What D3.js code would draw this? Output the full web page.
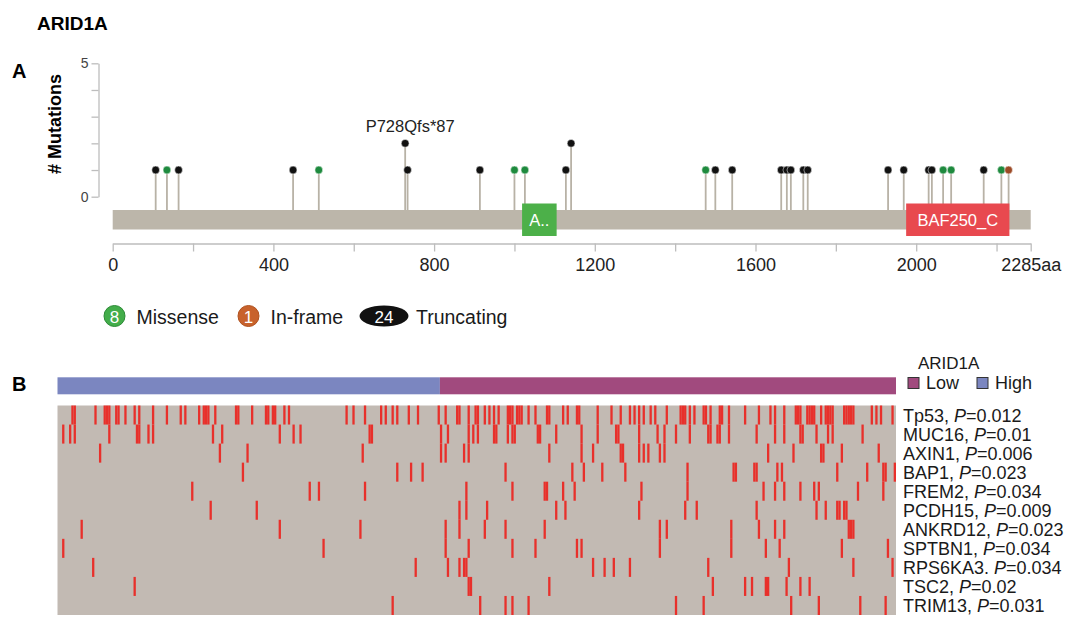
<!DOCTYPE html>
<html>
<head>
<meta charset="utf-8">
<script src="https://cdnjs.cloudflare.com/ajax/libs/d3/7.8.5/d3.min.js"></script>
<style>
  body { margin: 0; background: #fff; }
  svg { font-family: "Liberation Sans", Arial, sans-serif; }
  .axis path, .axis line { stroke: #bdbdbd; stroke-width: 1.3; }
  .axis text { fill: #222; }
</style>
</head>
<body>
<div id="chart"></div>
<script>
// ---- panel A: lollipop data ----
var proteinLength = 2285;
var mutPos   = [107, 135, 164, 449, 513, 728, 734, 914, 1000, 1026, 1128, 1141, 1476, 1500, 1542, 1664, 1678, 1688, 1719, 1730, 1930, 1969, 2031, 2039, 2067, 2087, 2168, 2212, 2230];
var mutCount = [1, 1, 1, 1, 1, 2, 1, 1, 1, 1, 1, 2, 1, 1, 1, 1, 1, 1, 1, 1, 1, 1, 1, 1, 1, 1, 1, 1, 1];
var mutType  = ["T", "M", "T", "T", "M", "T", "T", "T", "M", "M", "T", "T", "M", "T", "T", "T", "T", "T", "T", "T", "T", "T", "T", "T", "M", "M", "T", "M", "I"];
var domainNames = ["A..", "BAF250_C"];
var domainStart = [1019, 1975];
var domainEnd   = [1105, 2232];
var xTickValues = [0, 200, 400, 600, 800, 1000, 1200, 1400, 1600, 1800, 2000, 2200, 2285];
var xTickLabels = ["0", "", "400", "", "800", "", "1200", "", "1600", "", "2000", "", "2285aa"];
var yTickValues = [0, 1, 2, 3, 4, 5];
var labelledMutation = { pos: 728, text: "P728Qfs*87" };
var legendNames  = ["Missense", "In-frame", "Truncating"];
var legendCounts = ["8", "1", "24"];

// ---- panel B: oncoprint data (sample indices with mutation) ----
var nSamples = 364;
var nHigh = 166;   // first samples are ARID1A High, rest Low
var genes   = ["Tp53", "MUC16", "AXIN1", "BAP1", "FREM2", "PCDH15", "ANKRD12", "SPTBN1", "RPS6KA3", "TSC2", "TRIM13"];
var pValues = ["0.012", "0.01", "0.006", "0.023", "0.034", "0.009", "0.023", "0.034", "0.034", "0.02", "0.031"];
var tp53    = [6,7,16,20,21,22,25,26,29,33,35,41,47,53,55,61,63,64,65,68,77,78,84,90,91,93,94,98,100,125,128,133,140,142,145,147,152,156,165,168,173,174,178,181,182,185,187,189,191,195,196,197,199,200,201,204,207,212,213,219,221,225,226,234,240,244,248,250,252,254,257,259,264,270,271,272,274,276,280,281,283,287,288,291,298,304,309,311,315,320,321,322,325,326,327,328,331,333,334,335,336,341,342,343,344,345,353,355,357,362];
var muc16   = [2,5,7,22,34,35,39,41,67,71,96,102,105,135,136,166,169,178,180,182,189,190,195,197,198,208,209,216,227,234,242,243,252,260,263,268,274,282,283,286,287,291,303,311,315,322,323,329,334,336,349];
var axin1   = [18,70,82,132,166,168,176,178,213,227,232,244,245,252,254,256,261,263,308,319,331,332,340,356];
var bap1    = [80,147,153,158,194,223,228,236,246,273,293,294,302,303,312,314,338,351,358,359,363];
var frem2   = [58,109,113,133,177,197,211,212,219,224,253,273,306,311,315,322,328,330,347,358];
var pcdh15  = [66,86,174,177,186,216,220,252,272,277,303,329,333,338,339,341,342];
var ankrd12 = [10,96,131,168,174,185,194,211,261,264,292,304,311,315,343,344,345];
var sptbn1  = [2,115,168,178,197,207,225,227,261,292,307,313,340,360];
var rps6ka3 = [15,155,169,174,176,177,232,237,241,248,282,317,345,362];
var tsc2    = [33,178,179,213,284,298,301,307,308,316,322,326];
var trim13  = [145,183,194,197,204,268,280,318,330,348,359];
var geneMutations = [tp53, muc16, axin1, bap1, frem2, pcdh15, ankrd12, sptbn1, rps6ka3, tsc2, trim13];

var typeColor = { M: "#1e8a3e", I: "#9c4a26", T: "#111111" };
var legendColor = ["#43ad4a", "#c8622c", "#111111"];

var width = 1074, height = 623;
var svg = d3.select("#chart").append("svg")
    .attr("width", width)
    .attr("height", height);

drawLollipop();
drawOncoprint();

function drawLollipop() {
    var x = d3.scaleLinear().domain([0, proteinLength]).range([112.7, 1030.7]);
    var y = d3.scaleLinear().domain([0, 5]).range([196.7, 63.3]);
    var barTop = 210, barH = 19.5;

    svg.append("text").attr("x", 37).attr("y", 30)
        .style("font-size", "19px").style("font-weight", "bold").text("ARID1A");
    svg.append("text").attr("x", 12).attr("y", 78)
        .style("font-size", "20px").style("font-weight", "bold").text("A");

    // y axis
    svg.append("g").attr("class", "axis")
        .attr("transform", "translate(98.5,0)")
        .call(d3.axisLeft(y).tickValues(yTickValues).tickSize(7).tickSizeOuter(0)
            .tickFormat(function (d) { return (d == 0 || d == 5) ? d : ""; }))
        .selectAll("text").style("font-size", "14px").style("fill", "#444");

    svg.append("text")
        .attr("transform", "translate(61,124) rotate(-90)")
        .attr("text-anchor", "middle")
        .style("font-size", "18px").style("font-weight", "bold")
        .text("# Mutations");

    // x axis
    var xAxis = svg.append("g").attr("class", "axis")
        .attr("transform", "translate(0,243.5)")
        .call(d3.axisBottom(x).tickValues(xTickValues).tickSize(8).tickSizeOuter(0).tickPadding(7)
            .tickFormat(function (d, i) { return xTickLabels[i]; }));
    xAxis.selectAll("text").style("font-size", "18px");

    // stems
    svg.selectAll(".stem").data(mutPos).enter().append("line")
        .attr("class", "stem")
        .attr("x1", function (d) { return x(d); })
        .attr("x2", function (d) { return x(d); })
        .attr("y1", barTop)
        .attr("y2", function (d, i) { return y(mutCount[i]); })
        .attr("stroke", "#b8b2a6").attr("stroke-width", 1.8);

    // protein backbone
    svg.append("rect")
        .attr("x", x(0)).attr("y", barTop)
        .attr("width", x(proteinLength) - x(0)).attr("height", barH)
        .attr("fill", "#bcb6aa");

    // domains
    var domainColor = ["#4cb049", "#e8494f"];
    domainNames.forEach(function (name, i) {
        svg.append("rect")
            .attr("x", x(domainStart[i])).attr("y", barTop - 6.5)
            .attr("width", x(domainEnd[i]) - x(domainStart[i])).attr("height", barH + 13)
            .attr("fill", domainColor[i]);
        svg.append("text")
            .attr("x", (x(domainStart[i]) + x(domainEnd[i])) / 2).attr("y", barTop + barH / 2 + 6)
            .attr("text-anchor", "middle").attr("fill", "#fff")
            .style("font-size", "16.5px").text(name);
    });

    // dots
    svg.selectAll(".dot").data(mutPos).enter().append("circle")
        .attr("class", "dot")
        .attr("cx", function (d) { return x(d); })
        .attr("cy", function (d, i) { return y(mutCount[i]); })
        .attr("r", 3.9)
        .attr("fill", function (d, i) { return typeColor[mutType[i]]; })
        .attr("stroke", "#fff").attr("stroke-width", 0.5);

    svg.append("text")
        .attr("x", x(labelledMutation.pos) + 5).attr("y", y(2) - 11)
        .attr("text-anchor", "middle")
        .style("font-size", "16.5px").style("fill", "#222")
        .text(labelledMutation.text);

    // legend
    var lg = svg.append("g").attr("transform", "translate(0,316)");
    var lx = [114.5, 248.5, 384];
    legendNames.forEach(function (name, i) {
        if (i < 2) {
            lg.append("circle").attr("cx", lx[i]).attr("cy", 0).attr("r", 10.5)
                .attr("fill", legendColor[i])
                .attr("stroke", i == 0 ? "#2c8a36" : "#b0521f").attr("stroke-width", 1);
        } else {
            lg.append("ellipse").attr("cx", lx[i]).attr("cy", 0).attr("rx", 24.5).attr("ry", 10.5)
                .attr("fill", legendColor[i]);
        }
        lg.append("text").attr("x", lx[i]).attr("y", 6.5)
            .attr("text-anchor", "middle").attr("fill", "#fff")
            .style("font-size", "17px").text(legendCounts[i]);
        lg.append("text").attr("x", lx[i] + (i < 2 ? 22 : 32)).attr("y", 7.5)
            .style("font-size", "19.5px").style("fill", "#1a1a1a").text(name);
    });
}

function drawOncoprint() {
    var x = d3.scaleLinear().domain([0, nSamples]).range([57.5, 896]);
    var y = d3.scaleBand().domain(genes).range([405.5, 615]).padding(0);

    svg.append("text").attr("x", 12).attr("y", 391)
        .style("font-size", "20px").style("font-weight", "bold").text("B");

    // ARID1A group bar
    svg.append("rect").attr("x", x(0)).attr("y", 377.3)
        .attr("width", x(nHigh) - x(0)).attr("height", 17).attr("fill", "#7b86c0");
    svg.append("rect").attr("x", x(nHigh)).attr("y", 377.3)
        .attr("width", x(nSamples) - x(nHigh)).attr("height", 17).attr("fill", "#a14a7e");

    // background
    svg.append("rect").attr("x", x(0)).attr("y", y.range()[0])
        .attr("width", x(nSamples) - x(0)).attr("height", y.range()[1] - y.range()[0])
        .attr("fill", "#c2bab3");

    geneMutations.forEach(function (list, gi) {
        svg.selectAll(".mut" + gi).data(list).enter().append("rect")
            .attr("class", "mut" + gi)
            .attr("x", function (d) { return x(d); })
            .attr("width", x(1) - x(0))
            .attr("y", y(genes[gi]))
            .attr("height", y.bandwidth())
            .attr("fill", "#e8302b");
    });

    // gene labels
    genes.forEach(function (g, i) {
        var t = svg.append("text")
            .attr("x", 903).attr("y", y(g) + y.bandwidth() / 2 + 6.5)
            .style("font-size", "18px").style("fill", "#1a1a1a");
        t.append("tspan").text(g + (g == "RPS6KA3" ? ". " : ", "));
        t.append("tspan").style("font-style", "italic").text("P");
        t.append("tspan").text("=" + pValues[i]);
    });

    // legend
    svg.append("text").attr("x", 918).attr("y", 369)
        .style("font-size", "17px").style("fill", "#1a1a1a").text("ARID1A");
    var groups = ["Low", "High"], gcol = ["#a14a7e", "#7b86c0"], gx = [908, 977];
    groups.forEach(function (g, i) {
        svg.append("rect").attr("x", gx[i]).attr("y", 377.5).attr("width", 11).attr("height", 11)
            .attr("fill", gcol[i]).attr("stroke", "#333").attr("stroke-width", 1);
        svg.append("text").attr("x", gx[i] + 18).attr("y", 389)
            .style("font-size", "18px").style("fill", "#1a1a1a").text(g);
    });
}
</script>
</body>
</html>
